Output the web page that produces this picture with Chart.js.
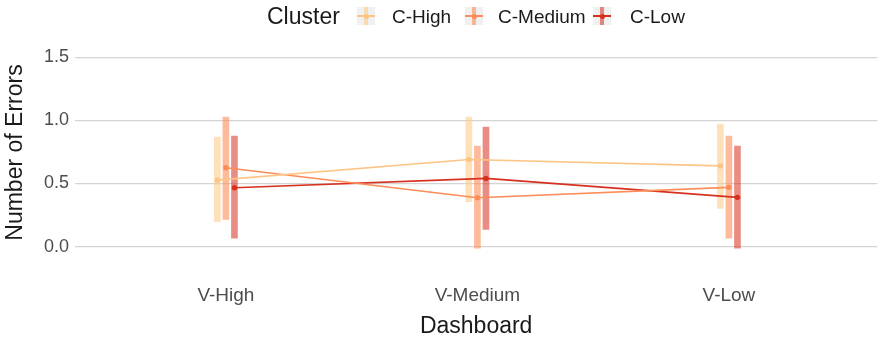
<!DOCTYPE html>
<html>
<head>
<meta charset="utf-8">
<script src="https://cdn.jsdelivr.net/npm/chart.js@4.4.1/dist/chart.umd.min.js"></script>
<style>
  html, body { margin: 0; padding: 0; background: #ffffff; }
  #wrap { position: relative; width: 880px; height: 341px; font-family: "Liberation Sans", Arial, sans-serif; }
  #c { position: absolute; left: 0; top: 0; }
  .lg { position: absolute; white-space: nowrap; line-height: 1; }
  .key { position: absolute; width: 18px; height: 18px; background: #f0f0f0; }
  .key .v { position: absolute; left: 7px; top: 0; width: 4px; height: 18px; }
  .key .h { position: absolute; left: 0; top: 8.25px; width: 18px; height: 1.5px; }
  .key .p { position: absolute; left: 6.5px; top: 6.5px; width: 5px; height: 5px; border-radius: 50%; }
</style>
</head>
<body>
<div id="wrap">
  <canvas id="c" width="880" height="341"></canvas>
  <div id="legend"></div>
</div>
<script>
// ---- data ----
const categories = ["V-High", "V-Medium", "V-Low"];
const clusters = ["C-High", "C-Medium", "C-Low"];
const meanHigh   = [0.526, 0.690, 0.639];
const lowHigh    = [0.197, 0.355, 0.303];
const upHigh     = [0.868, 1.026, 0.968];
const meanMedium = [0.624, 0.387, 0.469];
const lowMedium  = [0.216, -0.013, 0.066];
const upMedium   = [1.026, 0.795, 0.874];
const meanLow    = [0.466, 0.540, 0.390];
const lowLow     = [0.066, 0.137, -0.013];
const upLow      = [0.874, 0.947, 0.795];
const yTicks = [0.0, 0.5, 1.0, 1.5];

// ---- styling ----
const colors = ["#fdc585", "#fc8d59", "#d7301f"];
const barColors = ["rgba(253,204,138,0.6)", "rgba(252,141,89,0.6)", "rgba(215,48,31,0.55)"];
const dodge = [-0.034, 0, 0.034];

const means = [meanHigh, meanMedium, meanLow];
const lows = [lowHigh, lowMedium, lowLow];
const ups = [upHigh, upMedium, upLow];

const datasets = [];
clusters.forEach((name, s) => {
  datasets.push({
    type: 'bar',
    label: name + ' range',
    data: categories.map((c, i) => ({ x: i + 1 + dodge[s], y: [lows[s][i], ups[s][i]] })),
    backgroundColor: barColors[s],
    borderWidth: 0,
    barThickness: 6,
    grouped: false,
    order: 2
  });
});
clusters.forEach((name, s) => {
  datasets.push({
    type: 'line',
    label: name,
    data: categories.map((c, i) => ({ x: i + 1 + dodge[s], y: means[s][i] })),
    borderColor: colors[s],
    backgroundColor: colors[s],
    borderWidth: 1.6,
    pointRadius: 2.7,
    pointHoverRadius: 2.7,
    pointBorderWidth: 0,
    fill: false,
    tension: 0,
    order: 1
  });
});

const FONT = "'Liberation Sans', Arial, sans-serif";

new Chart(document.getElementById('c'), {
  data: { datasets },
  options: {
    responsive: false,
    animation: false,
    events: [],
    layout: { padding: { top: 47, left: 0, right: 0, bottom: 0 } },
    plugins: { legend: { display: false }, tooltip: { enabled: false } },
    scales: {
      x: {
        type: 'linear',
        min: 0.4,
        max: 3.59,
        offset: false,
        grid: { display: false, drawTicks: false },
        border: { display: false },
        afterBuildTicks: (sc) => { sc.ticks = categories.map((c, i) => ({ value: i + 1 })); },
        afterFit: (sc) => { sc.height = 83; },
        ticks: {
          autoSkip: false,
          maxRotation: 0,
          padding: 26,
          color: '#4d4d4d',
          font: { family: FONT, size: 19 },
          callback: (v) => categories[Math.round(v) - 1] || ''
        },
        title: {
          display: true,
          text: 'Dashboard',
          color: '#1a1a1a',
          font: { family: FONT, size: 23 },
          padding: { top: 0, bottom: 1 }
        }
      },
      y: {
        type: 'linear',
        min: -0.09,
        max: 1.58,
        grid: { color: '#d4d4d4', lineWidth: 1.2, drawTicks: false },
        border: { display: false },
        afterBuildTicks: (sc) => { sc.ticks = yTicks.map(v => ({ value: v })); },
        afterFit: (sc) => { sc.width = 75; },
        ticks: {
          padding: 6,
          color: '#4d4d4d',
          font: { family: FONT, size: 18 },
          callback: (v) => Number(v).toFixed(1)
        },
        title: {
          display: true,
          text: 'Number of Errors',
          color: '#1a1a1a',
          font: { family: FONT, size: 23 },
          padding: { top: 2, bottom: 0 }
        }
      }
    }
  }
});

// ---- legend (HTML) ----
const legend = document.getElementById('legend');
function addText(txt, x, size, color) {
  const d = document.createElement('div');
  d.className = 'lg';
  d.textContent = txt;
  d.style.left = x + 'px';
  d.style.top = (17.5 - size * 0.55) + 'px';
  d.style.fontSize = size + 'px';
  d.style.color = color;
  legend.appendChild(d);
}
addText('Cluster', 267, 23, '#1a1a1a');
const keyX = [357, 465, 593];
const labelX = [392, 498, 630];
clusters.forEach((name, s) => {
  const k = document.createElement('div');
  k.className = 'key';
  k.style.left = keyX[s] + 'px';
  k.style.top = '7px';
  k.innerHTML = '<div class="v" style="background:' + barColors[s] + '"></div>' +
                '<div class="h" style="background:' + colors[s] + '"></div>' +
                '<div class="p" style="background:' + colors[s] + '"></div>';
  legend.appendChild(k);
  addText(name, labelX[s], 19, '#1a1a1a');
});
</script>
</body>
</html>
